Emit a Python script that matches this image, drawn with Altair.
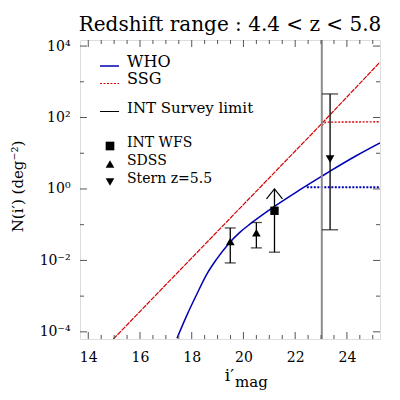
import altair as alt
import pandas as pd

FONT = "DejaVu Serif"

# ---------------- data ----------------
who_mag = [17.43, 17.81, 18.20, 18.59, 18.97, 19.42, 19.87, 20.26, 21.16, 22.06, 23.0, 23.35, 24.36, 25.28]
who_N = [6.6e-5, 2.9e-4, 1.15e-3, 4.2e-3, 1.1e-2, 2.9e-2, 6.2e-2, 0.105, 0.31, 0.83, 2.2, 3.15, 8.5, 19.5]

who_flat_mag = [22.45, 25.28]
who_flat_N = [1.12, 1.12]

ssg_mag = [14.97, 17.17, 22.83, 25.28]
ssg_N = [6.3e-5, 2.8e-3, 48.0, 3550.0]

ssg_flat_mag = [23.03, 23.18, 25.28]
ssg_flat_N = [60.0, 74.0, 76.0]

survey_limit = [23.03]

sdss_mag = [19.49, 20.50]
sdss_N = [0.034, 0.059]
sdss_lo = [0.0085, 0.0224]
sdss_hi = [0.081, 0.115]

intwfs_mag = [21.2]
intwfs_N = [0.245]
intwfs_lo = [0.017]
intwfs_limit = [1.0]

stern_mag = [23.35]
stern_N = [6.9]
stern_lo = [0.072]
stern_hi = [457.0]

x_labels = [14, 16, 18, 20, 22, 24]
x_minor = [14.5, 15, 15.5, 16.5, 17, 17.5, 18.5, 19, 19.5, 20.5, 21, 21.5,
           22.5, 23, 23.5, 24.5, 25]
y_labels = [1e-4, 1e-2, 1, 1e2, 1e4]
y_minor = [1e-3, 1e-1, 10, 1e3]

title_text = "Redshift range : 4.4 < z < 5.8"
y_title = "N(i′) (deg⁻²)"
legend_lines = ["WHO", "SSG", "INT Survey limit"]
legend_marks = ["INT WFS", "SDSS", "Stern z=5.5"]

# ---------------- tables ----------------
who = pd.DataFrame({"mag": who_mag, "N": who_N})
who_flat = pd.DataFrame({"mag": who_flat_mag, "N": who_flat_N})
ssg = pd.DataFrame({"mag": ssg_mag, "N": ssg_N})
ssg_flat = pd.DataFrame({"mag": ssg_flat_mag, "N": ssg_flat_N})
limit = pd.DataFrame({"mag": survey_limit})
sdss = pd.DataFrame({"mag": sdss_mag, "N": sdss_N, "lo": sdss_lo, "hi": sdss_hi})
intwfs = pd.DataFrame({"mag": intwfs_mag, "N": intwfs_N, "lo": intwfs_lo, "hi": intwfs_limit})
stern = pd.DataFrame({"mag": stern_mag, "N": stern_N, "lo": stern_lo, "hi": stern_hi})
xmaj = pd.DataFrame({"mag": x_labels})
xmin = pd.DataFrame({"mag": x_minor})
ymaj = pd.DataFrame({"N": y_labels})
ymin = pd.DataFrame({"N": y_minor})
one = pd.DataFrame({"k": [0]})

W, H = 300, 299

xs = alt.Scale(domain=[13.68, 25.28], nice=False, zero=False)
ys = alt.Scale(type="log", domain=[6.31e-5, 1.479e4], nice=False)

xax = alt.Axis(values=x_labels, ticks=False, domain=False, grid=False,
               labelFont=FONT, labelFontSize=14, labelColor="black",
               labelPadding=11, labelFlush=False, title=None)
yax = alt.Axis(values=y_labels, ticks=False, domain=False, grid=False,
               labelExpr="datum.value >= 1000 ? '10⁴' : datum.value >= 10 ? '10²' : "
                         "datum.value >= 0.1 ? '10⁰' : datum.value >= 0.001 ? '10⁻²' : '10⁻⁴'",
               labelFont=FONT, labelFontSize=14, labelColor="black", labelPadding=10,
               labelFlush=False,
               title=y_title, titleFont=FONT, titleFontSize=15, titleFontWeight="normal",
               titleColor="black", titleAngle=270, titleX=-63, titleY=146,
               titleAlign="center", titleBaseline="middle")


def X(f):
    return alt.X(f, type="quantitative", scale=xs, axis=xax)


def Y(f):
    return alt.Y(f, type="quantitative", scale=ys, axis=yax)


BLUE = "#0000b4"
RED = "#d40000"
GREY = "#8c8c8c"
TICK = "#555555"

layers = []

# curves
layers.append(alt.Chart(ssg).mark_line(color=RED, strokeWidth=1.2, strokeDash=[5, 1], clip=True)
              .encode(x=X("mag"), y=Y("N")))
layers.append(alt.Chart(ssg_flat).mark_line(color=RED, strokeWidth=1.4, strokeDash=[2, 1.5], clip=True)
              .encode(x=X("mag"), y=Y("N")))
layers.append(alt.Chart(who).mark_line(color=BLUE, strokeWidth=1.5, clip=True, interpolate="monotone")
              .encode(x=X("mag"), y=Y("N")))
layers.append(alt.Chart(who_flat).mark_line(color=BLUE, strokeWidth=2, strokeDash=[2, 1.5], clip=True)
              .encode(x=X("mag"), y=Y("N")))

# survey limit
layers.append(alt.Chart(limit).mark_rule(color=GREY, strokeWidth=2)
              .encode(x=X("mag"), y=alt.value(0), y2=alt.value(H)))

# error bars
for df, cap, top in [(sdss, 11, True), (intwfs, 11, False), (stern, 16, True)]:
    layers.append(alt.Chart(df).mark_rule(color="black", strokeWidth=1.3)
                  .encode(x=X("mag"), y=Y("lo"), y2=alt.Y2("hi")))
    layers.append(alt.Chart(df).mark_tick(color="black", orient="horizontal", size=cap, thickness=1.3)
                  .encode(x=X("mag"), y=Y("lo")))
    if top:
        layers.append(alt.Chart(df).mark_tick(color="black", orient="horizontal", size=cap, thickness=1.3)
                      .encode(x=X("mag"), y=Y("hi")))

# lower-limit arrow head
layers.append(alt.Chart(intwfs).mark_point(shape="M-1,1.25L0,0L1,1.25", filled=False,
                                           color="black", strokeWidth=1.2, size=256, opacity=1)
              .encode(x=X("mag"), y=Y("hi")))

# markers
layers.append(alt.Chart(sdss).mark_point(shape="triangle-up", filled=True, color="black", size=75, opacity=1)
              .encode(x=X("mag"), y=Y("N")))
layers.append(alt.Chart(intwfs).mark_point(shape="square", filled=True, color="black", size=70, opacity=1)
              .encode(x=X("mag"), y=Y("N")))
layers.append(alt.Chart(stern).mark_point(shape="triangle-down", filled=True, color="black", size=75, opacity=1)
              .encode(x=X("mag"), y=Y("N")))

# inward ticks on all four sides
for df, ln in [(xmaj, 7), (xmin, 4)]:
    layers.append(alt.Chart(df).mark_rule(color=TICK, strokeWidth=1)
                  .encode(x=X("mag"), y=alt.value(H), y2=alt.value(H - ln)))
    layers.append(alt.Chart(df).mark_rule(color=TICK, strokeWidth=1)
                  .encode(x=X("mag"), y=alt.value(0), y2=alt.value(ln)))
for df, ln in [(ymaj, 7), (ymin, 4)]:
    layers.append(alt.Chart(df).mark_rule(color=TICK, strokeWidth=1)
                  .encode(y=Y("N"), x=alt.value(0), x2=alt.value(ln)))
    layers.append(alt.Chart(df).mark_rule(color=TICK, strokeWidth=1)
                  .encode(y=Y("N"), x=alt.value(W), x2=alt.value(W - ln)))

# legend: line samples
layers.append(alt.Chart(one).mark_rule(color=BLUE, strokeWidth=1.5)
              .encode(x=alt.value(20), x2=alt.value(39), y=alt.value(26)))
layers.append(alt.Chart(one).mark_rule(color=RED, strokeWidth=1.2, strokeDash=[2, 1.5])
              .encode(x=alt.value(20), x2=alt.value(39), y=alt.value(43.5)))
layers.append(alt.Chart(one).mark_rule(color="black", strokeWidth=1)
              .encode(x=alt.value(20), x2=alt.value(39), y=alt.value(71.5)))
for txt, yb, fs in zip(legend_lines, [26.5, 44, 72.5], [16, 16, 15]):
    layers.append(alt.Chart(pd.DataFrame({"t": [txt]})).mark_text(
        font=FONT, fontSize=fs, align="left", baseline="alphabetic", color="black")
        .encode(text="t:N", x=alt.value(47), y=alt.value(yb)))

# legend: markers
for shp, ym in zip(["square", "triangle-up", "triangle-down"], [106, 124, 142]):
    layers.append(alt.Chart(one).mark_point(shape=shp, filled=True, color="black", size=75, opacity=1)
                  .encode(x=alt.value(30), y=alt.value(ym)))
for txt, yb in zip(legend_marks, [106.5, 124.5, 142.5]):
    layers.append(alt.Chart(pd.DataFrame({"t": [txt]})).mark_text(
        font=FONT, fontSize=14, align="left", baseline="alphabetic", color="black")
        .encode(text="t:N", x=alt.value(47), y=alt.value(yb)))

# title and x-axis title (i'_mag)
layers.append(alt.Chart(pd.DataFrame({"t": [title_text]})).mark_text(
    font=FONT, fontSize=20, align="center", baseline="alphabetic", color="black")
    .encode(text="t:N", x=alt.value(W / 2), y=alt.value(-9)))
layers.append(alt.Chart(pd.DataFrame({"t": ["i′"]})).mark_text(
    font=FONT, fontSize=17, align="right", baseline="alphabetic", color="black")
    .encode(text="t:N", x=alt.value(154), y=alt.value(42 + H)))
layers.append(alt.Chart(pd.DataFrame({"t": ["mag"]})).mark_text(
    font=FONT, fontSize=15, align="left", baseline="alphabetic", color="black")
    .encode(text="t:N", x=alt.value(155), y=alt.value(48 + H)))

chart = alt.layer(*layers).properties(
    width=W, height=H,
    autosize=alt.AutoSizeParams(type="none"),
    padding={"left": 72, "top": 32, "right": 10, "bottom": 60},
).configure_view(stroke=GREY, strokeWidth=2).configure(background="white")

chart.save("out.html", embed_options={"renderer": "svg", "actions": False})
